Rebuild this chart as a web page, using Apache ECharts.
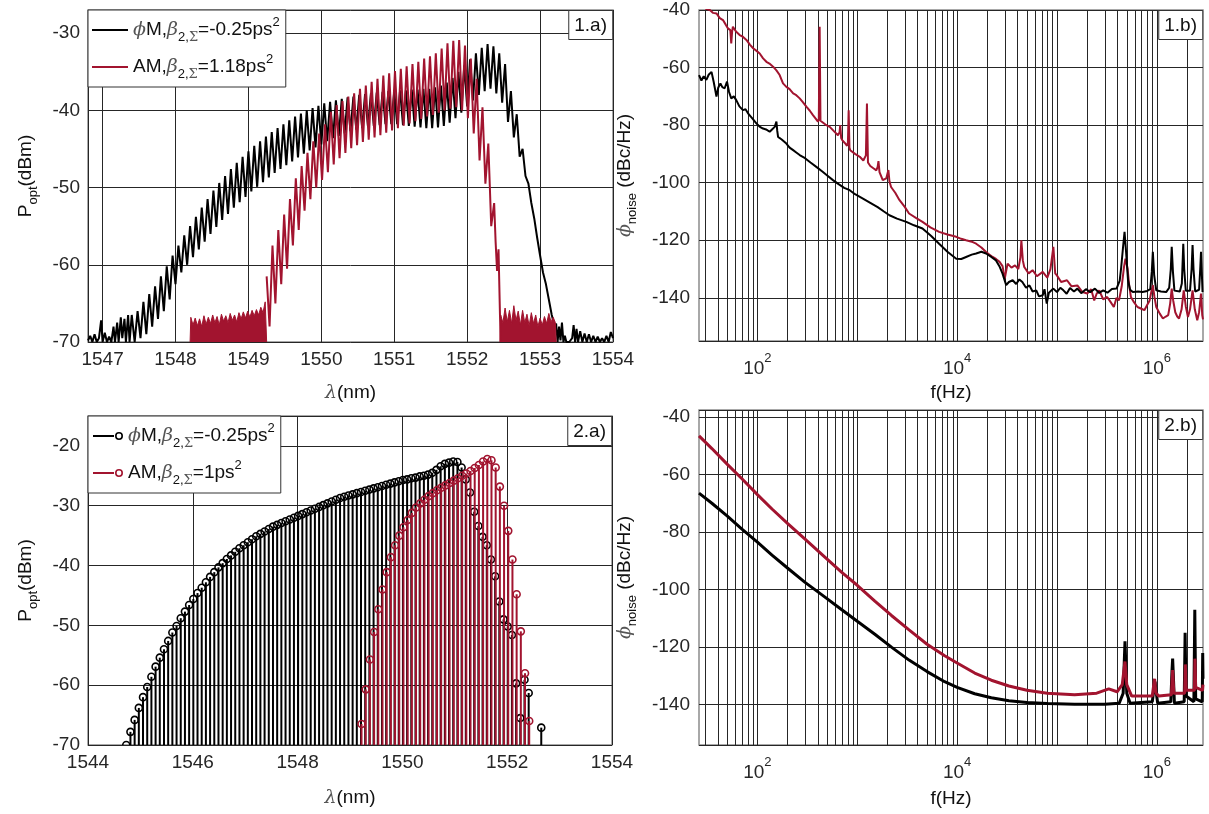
<!DOCTYPE html>
<html><head><meta charset="utf-8">
<script src="https://cdn.jsdelivr.net/npm/echarts@6/dist/echarts.min.js"></script>
<style>html,body{margin:0;padding:0;background:#fff}#c{width:1209px;height:814px}</style>
</head><body><div id="c"></div>
<script>
// ---------------- DATA ----------------
// Panel 1.a : optical spectra (comb teeth every combStep nm)
const combStep = 0.08;
const a1BlackHead = [[1546.80,-69.8],[1546.83,-69.2],[1546.86,-70],[1546.89,-69.0],[1546.92,-70],[1546.95,-69.5],[1546.98,-67.2],[1547.00,-70],[1547.03,-68.8],[1547.06,-70],[1547.09,-69.3],[1547.12,-70],[1547.15,-68.0],[1547.17,-70],[1547.20,-67.5],[1547.22,-70],[1547.25,-66.8],[1547.27,-69.5],[1547.30,-67.0],[1547.32,-70],[1547.35,-66.5],[1547.37,-70]];
const a1BlackStart = 1547.40;
const a1BlackPeaks = [-66.5,-66.0,-64.8,-63.8,-62.8,-61.5,-60.2,-58.8,-57.5,-56.2,-55.0,-53.8,-52.6,-51.5,-50.4,-49.4,-48.5,-47.6,-46.8,-46.0,-45.3,-44.6,-44.0,-43.4,-42.8,-42.3,-41.8,-41.3,-40.8,-40.4,-40.0,-39.7,-39.4,-39.1,-38.9,-38.7,-38.5,-38.3,-38.2,-38.0,-37.9,-37.8,-37.7,-37.6,-37.5,-37.5,-37.4,-37.4,-37.3,-37.3,-37.2,-37.2,-37.0,-36.8,-36.4,-35.8,-35.0,-34.2,-33.4,-32.6,-31.9,-31.4,-31.7,-32.6,-34.0];
const a1BlackTroughs = [-70,-69.5,-69,-68,-67,-66,-64.5,-62.5,-61,-60,-59,-58,-57,-56,-55.1,-54.2,-53.4,-52.6,-51.9,-51.2,-50.5,-49.9,-49.3,-48.7,-48.1,-47.6,-47.1,-46.6,-46.1,-45.6,-45.2,-44.8,-44.4,-44.0,-43.6,-43.3,-43.0,-42.7,-42.5,-42.3,-42.1,-42.0,-41.9,-41.8,-41.8,-41.8,-41.9,-42.0,-42.1,-42.2,-42.3,-42.3,-42.2,-42.0,-41.6,-41.0,-40.3,-39.5,-38.7,-38.0,-37.5,-37.2,-37.8,-39.0,-41.5];
const a1BlackTail = [[1552.60,-37.5],[1552.64,-43.5],[1552.68,-40.5],[1552.72,-46],[1552.76,-45],[1552.80,-48.5],[1552.84,-49.5],[1552.88,-52],[1552.92,-54],[1552.96,-56.5],[1553.00,-58.8],[1553.04,-61],[1553.08,-62.5],[1553.12,-64.5],[1553.16,-66.5],[1553.20,-68],[1553.22,-67.6],[1553.24,-70],[1553.26,-68],[1553.28,-69.8],[1553.30,-67.5],[1553.32,-70],[1553.34,-69.2],[1553.36,-70],[1553.40,-70],[1553.44,-69.5],[1553.46,-67.8],[1553.48,-70],[1553.50,-68.3],[1553.52,-70],[1553.55,-68.6],[1553.58,-70],[1553.61,-68.9],[1553.64,-70],[1553.67,-69],[1553.70,-70],[1553.73,-69.2],[1553.76,-70],[1553.79,-69.3],[1553.82,-70],[1553.85,-69.5],[1553.88,-70],[1553.91,-69.2],[1553.94,-70],[1553.97,-68.7],[1554.00,-69.5]];
const a1RedStart = 1549.25;
const a1RedPeaks = [-61.5,-57.5,-55.5,-53.5,-51.5,-48.8,-47.2,-45.5,-44.0,-43.0,-41.8,-40.2,-39.3,-38.8,-38.2,-37.8,-37.2,-36.8,-36.3,-35.9,-35.5,-35.2,-34.9,-34.6,-34.3,-34.0,-33.7,-33.3,-33.0,-32.6,-32.0,-31.3,-31.0,-30.9,-31.6,-33.3,-35.9,-39.6,-44.3,-52.0];
const a1RedTroughs = [-68,-65,-62.5,-60.5,-57.5,-55.5,-53,-51.5,-50,-49,-48,-47,-46.2,-45.5,-44.9,-44.5,-44.1,-43.8,-43.5,-43.2,-42.9,-42.6,-42.3,-42.0,-41.7,-41.4,-41.1,-40.8,-40.6,-40.3,-40.0,-39.8,-39.6,-40.0,-41.0,-43.0,-46.5,-49.5,-55];
const a1RedTail = [[1552.39,-57],[1552.41,-60.8],[1552.43,-58],[1552.45,-66.5],[1552.46,-70]];
const a1RedFloorLeft = [[1548.20,-70],[1548.21,-66.8],[1548.24,-67.8],[1548.27,-66.9],[1548.30,-67.9],[1548.33,-67.0],[1548.36,-68.0],[1548.39,-66.6],[1548.42,-67.7],[1548.45,-66.8],[1548.48,-67.6],[1548.51,-66.5],[1548.54,-67.5],[1548.57,-66.7],[1548.60,-67.8],[1548.63,-66.4],[1548.66,-67.3],[1548.69,-66.6],[1548.72,-67.5],[1548.75,-66.3],[1548.78,-67.2],[1548.81,-66.5],[1548.84,-67.4],[1548.87,-66.2],[1548.90,-67.0],[1548.93,-66.1],[1548.96,-66.9],[1548.99,-66.0],[1549.02,-66.8],[1549.05,-65.9],[1549.08,-66.6],[1549.11,-65.8],[1549.14,-66.5],[1549.17,-65.5],[1549.20,-66.2],[1549.23,-64.8],[1549.25,-70]];
const a1RedFloorRight = [[1552.45,-70],[1552.46,-66.5],[1552.49,-67.5],[1552.52,-65.6],[1552.55,-67.4],[1552.58,-65.9],[1552.61,-67.6],[1552.64,-65.3],[1552.67,-67.2],[1552.70,-66.0],[1552.73,-67.8],[1552.76,-65.9],[1552.79,-67.5],[1552.82,-66.4],[1552.85,-67.9],[1552.88,-66.2],[1552.91,-67.6],[1552.94,-66.5],[1552.97,-68.0],[1553.00,-66.9],[1553.03,-67.8],[1553.06,-66.7],[1553.09,-67.6],[1553.12,-66.3],[1553.15,-67.4],[1553.18,-66.8],[1553.21,-67.5],[1553.22,-70]];

// Panel 1.b : measured phase noise [f (Hz), dBc/Hz]
const b1Black = [[26,-62.6],[27.5,-64.5],[29,-63],[30.8,-64.3],[32.5,-62.5],[34.7,-61.5],[36.5,-65],[38.9,-70.1],[40.5,-67],[42.6,-65.5],[44.5,-66.8],[47,-67.2],[49.6,-64.9],[52,-68.5],[54.7,-70.7],[58,-70],[61.4,-71.3],[66,-73.5],[71.6,-74.8],[76,-74.5],[80.5,-75.9],[88,-77.5],[97.6,-79.4],[105,-80.5],[113.8,-81.2],[122,-81.5],[132.7,-82.3],[140,-81.5],[149,-80.6],[155,-78.8],[158,-82],[161,-84.1],[175,-85],[195,-86.4],[210,-87.8],[228,-88.7],[245,-89.5],[265,-90.4],[300,-91.5],[340,-93],[389,-94.5],[450,-96.2],[500,-97.5],[571,-99.1],[650,-100.5],[740,-101.8],[840,-102.6],[950,-104],[1140,-105.5],[1350,-107],[1600,-108.5],[1850,-110],[2100,-111.3],[2500,-112.5],[3100,-113.6],[3700,-114.8],[4500,-115.9],[5500,-118.5],[6600,-121.2],[8000,-124],[9800,-126.4],[11000,-126.5],[12300,-125.8],[14000,-125],[15500,-124.6],[17500,-124],[19500,-124.6],[22000,-125.8],[24500,-127],[26500,-129],[28500,-131.6],[31000,-135.6],[33000,-134.5],[36000,-133.9],[39000,-135.2],[42000,-133.6],[45000,-134.5],[49000,-136.5],[53000,-135.7],[57000,-137.8],[62000,-137.4],[66000,-139.5],[72000,-139.1],[75000,-137],[79000,-142],[83000,-138.2],[92000,-136.8],[100000,-138],[108000,-136.5],[116000,-137.4],[125000,-138.6],[135000,-136.6],[148000,-137.8],[160000,-136.8],[175000,-138.4],[195000,-137],[215000,-138],[240000,-136.8],[265000,-138.3],[290000,-137.4],[320000,-138.2],[355000,-136.9],[395000,-136.8],[425000,-134],[440000,-129.3],[460000,-122],[475000,-117.1],[492000,-124],[515000,-134],[540000,-137.2],[575000,-138],[650000,-137.8],[720000,-138],[800000,-137.6],[860000,-137],[890000,-131],[912000,-124],[940000,-132],[987000,-137.4],[1100000,-137.8],[1240000,-138],[1330000,-136.5],[1380000,-130],[1410000,-122.3],[1450000,-131],[1500000,-137.5],[1560000,-138],[1700000,-137.8],[1780000,-135],[1820000,-126],[1840000,-121.2],[1880000,-130],[1950000,-137.5],[2030000,-138],[2150000,-137.5],[2230000,-130],[2280000,-121.7],[2330000,-130],[2420000,-137.8],[2500000,-138],[2650000,-137.2],[2720000,-130],[2770000,-124],[2820000,-131],[2870000,-138]];
const b1Red = [[30,-39.5],[33.4,-40],[36,-41],[38.9,-41.2],[42,-42.8],[45.2,-43.5],[48,-45],[50.7,-46.4],[53.5,-47],[54.7,-51.6],[55.8,-47.5],[56.8,-45.8],[61,-47.5],[66.4,-48.7],[71,-49.2],[77.6,-50.4],[84,-52],[90.6,-53.3],[98,-54.2],[105.4,-55.1],[114,-56.8],[123,-58],[132,-58.6],[143.6,-59.7],[155,-61],[167,-62.6],[180.5,-65.5],[195,-66.7],[210,-67.5],[228,-69],[245,-69.6],[265,-70.7],[285,-72],[309,-73.6],[335,-75],[360,-76.5],[385,-77.8],[404,-78.8],[412,-78],[420,-45.8],[428,-78.5],[436,-78.8],[480,-79.8],[530,-80.6],[580,-82],[640,-83.5],[665,-82.5],[675,-80],[690,-84.5],[707,-85.2],[750,-86.2],[790,-87.2],[806,-86],[820,-74.8],[835,-87.8],[850,-88.7],[950,-90],[1060,-91],[1150,-92.3],[1220,-90.5],[1250,-72.5],[1280,-93],[1350,-94.2],[1450,-95],[1550,-95.7],[1600,-94.5],[1630,-92.5],[1670,-96.3],[1800,-99.1],[1950,-98.5],[2050,-95.6],[2100,-99.5],[2180,-101.5],[2400,-103.5],[2640,-106],[3000,-108.5],[3300,-110.7],[3900,-112.3],[4500,-113.6],[5400,-115.5],[6600,-117.1],[8000,-118],[9800,-118.8],[11000,-119.5],[12300,-120],[14000,-120.5],[15500,-121.2],[17500,-122.5],[19500,-124.1],[21000,-125],[22700,-125.8],[24500,-126.5],[26600,-127.5],[28500,-129],[30000,-133.3],[32000,-128.1],[35000,-129.5],[38000,-128.7],[41000,-130],[43000,-126],[44000,-120],[45500,-127],[47000,-129.3],[52000,-131.5],[57000,-130.4],[63000,-132.5],[72000,-131],[80000,-133],[86000,-130],[92000,-122.3],[96000,-131.5],[99800,-132.2],[110000,-134.5],[126000,-133.9],[140000,-136],[160000,-135.7],[180000,-138],[201000,-138.5],[220000,-137],[236000,-140.9],[250000,-138.5],[265000,-137.4],[290000,-140.5],[318000,-139.7],[345000,-141.5],[371000,-143.2],[395000,-140],[418000,-140.9],[445000,-136],[469000,-129.3],[485000,-126.4],[500000,-128.5],[510000,-130],[530000,-136],[550000,-139.7],[590000,-141.5],[640000,-143.2],[700000,-143.8],[750000,-144.3],[800000,-142.5],[845000,-141],[880000,-138],[912000,-135.6],[945000,-139.5],[987000,-143.2],[1070000,-145.5],[1150000,-147.2],[1230000,-146.5],[1300000,-146],[1360000,-142],[1410000,-136.8],[1460000,-141],[1530000,-145],[1600000,-146.5],[1670000,-147.2],[1770000,-144],[1860000,-137.4],[1950000,-143],[2050000,-146.7],[2150000,-144],[2280000,-137.4],[2400000,-144],[2540000,-147.8],[2650000,-145],[2770000,-138.5],[2850000,-146],[2900000,-147.5]];

// Panel 2.a : simulated comb lines (stems every combStep nm)
const a2BlackStart = 1544.73;
const a2BlackLines = [-70.0,-67.8,-65.8,-63.8,-62.0,-60.3,-58.6,-56.9,-55.4,-54.0,-52.6,-51.2,-50.1,-48.8,-47.7,-46.6,-45.6,-44.6,-43.7,-42.8,-41.9,-41.1,-40.3,-39.6,-38.9,-38.3,-37.7,-37.1,-36.6,-36.1,-35.6,-35.1,-34.7,-34.3,-33.9,-33.5,-33.2,-32.9,-32.6,-32.3,-32.0,-31.7,-31.4,-31.1,-30.8,-30.5,-30.2,-29.9,-29.6,-29.3,-29.0,-28.7,-28.5,-28.3,-28.1,-27.9,-27.7,-27.5,-27.3,-27.1,-26.9,-26.7,-26.5,-26.3,-26.1,-25.9,-25.7,-25.6,-25.4,-25.3,-25.1,-25.0,-24.8,-24.5,-24.0,-23.4,-23.0,-22.8,-22.6,-22.7,-23.6,-25.6,-27.8,-31.0,-33.4,-35.2,-36.6,-39.0,-41.8,-46.0,-49.0,-50.2,-51.6,-59.7,-65.5,-59.1,-61.3,null,null,-67.1];
const a2RedStart = 1549.22;
const a2RedLines = [-66.5,-60.7,-55.7,-51.1,-47.3,-44.0,-41.1,-38.6,-36.6,-35.0,-33.6,-32.4,-31.2,-30.3,-29.6,-29.0,-28.4,-27.9,-27.4,-27.0,-26.6,-26.2,-25.8,-25.4,-25.0,-24.6,-24.2,-23.7,-23.2,-22.6,-22.2,-22.4,-23.6,-26.8,-30.0,-34.2,-39.0,-44.8,-51.0,-58.0,-66.0];

// Panel 2.b : simulated phase noise [f (Hz), dBc/Hz]
const b2Black = [[26,-66.5],[35,-70],[50,-74.5],[70,-79],[100,-83.5],[140,-88],[200,-92.5],[300,-97.5],[450,-102],[700,-107],[1000,-111],[1500,-115.5],[2200,-120],[3300,-124.5],[5000,-128.5],[7500,-132],[10000,-134],[15000,-136.2],[22000,-137.6],[33000,-138.6],[50000,-139.2],[80000,-139.6],[150000,-139.8],[300000,-139.8],[420000,-139.5],[460000,-136],[480000,-118],[500000,-136],[540000,-139.5],[900000,-139],[940000,-134],[960000,-132],[980000,-135],[1020000,-139.5],[1380000,-139],[1420000,-128],[1440000,-124],[1460000,-129],[1500000,-139.5],[1880000,-139],[1920000,-115],[1960000,-137],[2350000,-139],[2400000,-107],[2450000,-138],[2850000,-139],[2880000,-122],[2900000,-131]];
const b2Red = [[26,-46.6],[35,-51],[50,-56.5],[70,-61.5],[100,-67],[140,-72],[200,-77],[300,-82.5],[450,-88],[700,-94],[1000,-98.5],[1500,-104],[2200,-109],[3300,-114],[5000,-119],[7500,-123],[10000,-125.5],[15000,-129],[22000,-131.5],[33000,-133.5],[50000,-135],[80000,-136],[150000,-136.5],[250000,-136],[330000,-134.5],[400000,-135.5],[450000,-133],[480000,-125],[500000,-133],[560000,-137],[900000,-137],[950000,-131],[980000,-136],[1050000,-137],[1400000,-136.5],[1440000,-128],[1480000,-136],[1900000,-136],[1930000,-126],[1970000,-135],[2380000,-135],[2410000,-124],[2450000,-134],[2870000,-135],[2900000,-133]];

// axis ranges / tick labels
const a1X = [1546.8, 1554], a1Y = [-70, -27];
const b1X = [26, 2.9e6], b1Y = [-155, -40];
const a2X = [1544, 1554], a2Y = [-70, -15];
const b2X = [26, 2.9e6], b2Y = [-154, -37.6];
const panelTags = ['1.a)', '1.b)', '2.a)', '2.b)'];
const legendA1 = { A1B: '{it|ϕ}{t|M,}{it|β}{sub|2,}{subs|Σ}{t|=-0.25ps}{sup|2}', A1R: '{t|AM,}{it|β}{sub|2,}{subs|Σ}{t|=1.18ps}{sup|2}' };
const legendA2 = { A2B: '{it|ϕ}{t|M,}{it|β}{sub|2,}{subs|Σ}{t|=-0.25ps}{sup|2}', A2R: '{t|AM,}{it|β}{sub|2,}{subs|Σ}{t|=1ps}{sup|2}' };

// ---------------- BUILD ----------------
const RED = '#A2142F', BLK = '#000000', GRID = '#262626', TXT = '#262626';
const FONT = 'Liberation Sans, Arial, sans-serif';
const SERIF = 'DejaVu Serif, serif';

function buildComb(start, peaks, troughs) {
  const out = [];
  for (let i = 0; i < peaks.length; i++) {
    out.push([+(start + i * combStep).toFixed(3), peaks[i]]);
    if (i < troughs.length) out.push([+(start + i * combStep + combStep / 2).toFixed(3), troughs[i]]);
  }
  return out;
}
function buildStems(start, vals) {
  const out = [];
  vals.forEach((v, i) => { if (v !== null) out.push([+(start + i * combStep).toFixed(3), v]); });
  return out;
}
const a1Black = a1BlackHead.concat(buildComb(a1BlackStart, a1BlackPeaks, a1BlackTroughs), a1BlackTail);
const a1Red = buildComb(a1RedStart, a1RedPeaks, a1RedTroughs).concat(a1RedTail);
const a2Black = buildStems(a2BlackStart, a2BlackLines);
const a2Red = buildStems(a2RedStart, a2RedLines);

function logGridValues(r) {
  const vals = [];
  for (let e = Math.floor(Math.log10(r[0])); e <= Math.ceil(Math.log10(r[1])); e++)
    for (let k = 1; k <= 9; k++) { const v = k * Math.pow(10, e); if (v > r[0] && v < r[1]) vals.push([v]); }
  return vals;
}

const richText = {
  t: { fontSize: 19, fontFamily: FONT, color: '#111', lineHeight: 28 },
  it: { fontSize: 19, fontFamily: SERIF, fontStyle: 'italic', color: '#555', lineHeight: 28 },
  sub: { fontSize: 13, fontFamily: FONT, color: '#111', lineHeight: 14, verticalAlign: 'bottom' },
  subs: { fontSize: 13, fontFamily: SERIF, color: '#555', lineHeight: 14, verticalAlign: 'bottom' },
  sup: { fontSize: 13, fontFamily: FONT, color: '#111', lineHeight: 14, verticalAlign: 'top' }
};
const tickRich = {
  b: { fontSize: 19, fontFamily: FONT, color: TXT, lineHeight: 26, verticalAlign: 'bottom' },
  s: { fontSize: 13, fontFamily: FONT, color: TXT, lineHeight: 14, verticalAlign: 'top' }
};

function linFmt(step) { return v => (Math.abs(v / step - Math.round(v / step)) < 1e-6 ? String(Math.round(v)) : ''); }
function logFmt(v) {
  const e = Math.log10(v), r = Math.round(e);
  return (Math.abs(e - r) < 1e-6 && r % 2 === 0) ? '{b|10}{s|' + r + '}' : '';
}

const grids = [
  { left: 88, top: 10, width: 525, height: 332 },
  { left: 699, top: 10, width: 504, height: 331 },
  { left: 88, top: 416, width: 524, height: 329 },
  { left: 699, top: 410, width: 504, height: 335 }
].map(g => Object.assign(g, { show: true, borderColor: '#8c8c8c', borderWidth: 1.5, backgroundColor: 'transparent', containLabel: false, outerBoundsMode: 'none' }));

const axLbl = { color: TXT, fontSize: 19, fontFamily: FONT };
const split = { show: true, lineStyle: { color: GRID, width: 1, type: 'solid' } };
const noLine = { show: false };

function nameX(txt, gap) {
  return { name: txt, nameLocation: 'middle', nameGap: gap, nameTextStyle: { rich: richText } };
}
const xAxes = [
  Object.assign({ type: 'value', gridIndex: 0, min: a1X[0], max: a1X[1], axisLine: noLine, axisTick: noLine, splitLine: split, axisLabel: Object.assign({ formatter: linFmt(1), margin: 8 }, axLbl) }, nameX('{it|λ}{t|(nm)}', 37)),
  Object.assign({ type: 'log', logBase: 10, gridIndex: 1, min: b1X[0], max: b1X[1], axisLine: noLine, axisTick: noLine, splitLine: noLine, axisLabel: { formatter: logFmt, margin: 11, rich: tickRich } }, nameX('{t|f(Hz)}', 38)),
  Object.assign({ type: 'value', gridIndex: 2, min: a2X[0], max: a2X[1], interval: 2, axisLine: noLine, axisTick: noLine, splitLine: split, axisLabel: Object.assign({ formatter: linFmt(2), margin: 8 }, axLbl) }, nameX('{it|λ}{t|(nm)}', 39)),
  Object.assign({ type: 'log', logBase: 10, gridIndex: 3, min: b2X[0], max: b2X[1], axisLine: noLine, axisTick: noLine, splitLine: noLine, axisLabel: { formatter: logFmt, margin: 11, rich: tickRich } }, nameX('{t|f(Hz)}', 40))
];
function nameY(txt, gap) {
  return { name: txt, nameLocation: 'middle', nameGap: gap, nameRotate: 90, nameTextStyle: { rich: richText } };
}
const yAxes = [
  Object.assign({ type: 'value', gridIndex: 0, min: a1Y[0], max: a1Y[1], interval: 10, axisLine: noLine, axisTick: noLine, splitLine: split, axisLabel: Object.assign({ formatter: linFmt(10), margin: 8 }, axLbl) }, nameY('{t|P}{sub|opt}{t|(dBm)}', 48)),
  Object.assign({ type: 'value', gridIndex: 1, min: b1Y[0], max: b1Y[1], axisLine: noLine, axisTick: noLine, splitLine: split, axisLabel: Object.assign({ formatter: linFmt(20), margin: 9 }, axLbl) }, nameY('{it|ϕ}{sub|noise}{t| (dBc/Hz)}', 60)),
  Object.assign({ type: 'value', gridIndex: 2, min: a2Y[0], max: a2Y[1], interval: 10, axisLine: noLine, axisTick: noLine, splitLine: split, axisLabel: Object.assign({ formatter: linFmt(10), margin: 8 }, axLbl) }, nameY('{t|P}{sub|opt}{t|(dBm)}', 48)),
  Object.assign({ type: 'value', gridIndex: 3, min: b2Y[0], max: b2Y[1], axisLine: noLine, axisTick: noLine, splitLine: split, axisLabel: Object.assign({ formatter: linFmt(20), margin: 9 }, axLbl) }, nameY('{it|ϕ}{sub|noise}{t| (dBc/Hz)}', 60))
];

function vGrid(idx, vals, yr) {
  return {
    type: 'custom', name: 'grid' + idx, xAxisIndex: idx, yAxisIndex: idx, silent: true, z: 1, clip: true,
    data: vals, animation: false,
    renderItem: (params, api) => {
      const v = api.value(0);
      const p1 = api.coord([v, yr[0]]), p2 = api.coord([v, yr[1]]);
      const x = Math.round(p1[0]) + 0.5;
      return { type: 'line', shape: { x1: x, y1: p1[1], x2: x, y2: p2[1] }, style: { stroke: GRID, lineWidth: 1 } };
    }
  };
}
function stems(name, idx, data, color, base) {
  return {
    type: 'custom', name: name, xAxisIndex: idx, yAxisIndex: idx, clip: true, z: 3, data: data,
    itemStyle: { color: color },
    renderItem: (params, api) => {
      const top = api.coord([api.value(0), api.value(1)]);
      const bot = api.coord([api.value(0), base]);
      return { type: 'group', children: [
        { type: 'line', shape: { x1: top[0], y1: bot[1], x2: top[0], y2: top[1] }, style: { stroke: color, lineWidth: 2 } },
        { type: 'circle', shape: { cx: top[0], cy: top[1], r: 3.5 }, style: { stroke: color, fill: 'none', lineWidth: 1.6 } }
      ] };
    }
  };
}
function line(name, idx, data, color, width, z) {
  return { type: 'line', name: name, xAxisIndex: idx, yAxisIndex: idx, data: data, symbol: 'none', showSymbol: false,
    lineStyle: { color: color, width: width }, itemStyle: { color: color }, z: z, clip: true, animation: false };
}

const series = [
  line('A1B', 0, a1Black, BLK, 2, 3),
  line('A1R', 0, a1Red, RED, 2, 4),
  Object.assign(line('A1R', 0, a1RedFloorLeft, RED, 1, 4), { areaStyle: { color: RED, opacity: 1, origin: 'start' } }),
  Object.assign(line('A1R', 0, a1RedFloorRight, RED, 1, 4), { areaStyle: { color: RED, opacity: 1, origin: 'start' } }),
  vGrid(1, logGridValues(b1X), b1Y),
  line('B1R', 1, b1Red, RED, 2, 3),
  line('B1B', 1, b1Black, BLK, 2, 4),
  stems('A2B', 2, a2Black, BLK, a2Y[0]),
  stems('A2R', 2, a2Red, RED, a2Y[0]),
  vGrid(3, logGridValues(b2X), b2Y),
  line('B2B', 3, b2Black, BLK, 3, 3),
  line('B2R', 3, b2Red, RED, 3, 4)
];

const lineIcon = 'path://M0,0 L36,0 L36,2 L0,2 Z';
const stemIcon = 'path://M0,4.1 L21,4.1 L21,5.9 L0,5.9 Z M22,5 A4,4 0 1,0 30,5 A4,4 0 1,0 22,5 Z M23.6,5 A2.4,2.4 0 1,1 28.4,5 A2.4,2.4 0 1,1 23.6,5 Z';
const legendBase = { orient: 'vertical', backgroundColor: '#fff', borderColor: '#333', borderWidth: 1, selectedMode: false, z: 10,
  textStyle: { rich: richText } };
const legends = [
  Object.assign({}, legendBase, { left: 88, top: 10, padding: [6, 6, 6, 4], itemGap: 9, itemWidth: 36, itemHeight: 2,
    data: [{ name: 'A1B', icon: lineIcon }, { name: 'A1R', icon: lineIcon }], formatter: n => legendA1[n] }),
  Object.assign({}, legendBase, { left: 88, top: 416, padding: [6, 6, 6, 5], itemGap: 9, itemWidth: 30, itemHeight: 8,
    data: [{ name: 'A2B', icon: stemIcon }, { name: 'A2R', icon: stemIcon }], formatter: n => legendA2[n] })
];

const tagPos = [[1209 - 613, 10], [1209 - 1203, 10], [1209 - 612, 416], [1209 - 1203, 410]];
const titles = panelTags.map((t, i) => ({ text: t, right: tagPos[i][0], top: tagPos[i][1], padding: [6, 6, 5, 6],
  backgroundColor: '#fff', borderColor: '#333', borderWidth: 1, z: 10,
  textStyle: { fontFamily: FONT, fontSize: 19, fontWeight: 'normal', color: '#111' } }));

const chart = echarts.init(document.getElementById('c'), null, { renderer: 'canvas' });
chart.setOption({ animation: false, backgroundColor: '#fff', title: titles, legend: legends, grid: grids, xAxis: xAxes, yAxis: yAxes, series: series });
</script></body></html>
